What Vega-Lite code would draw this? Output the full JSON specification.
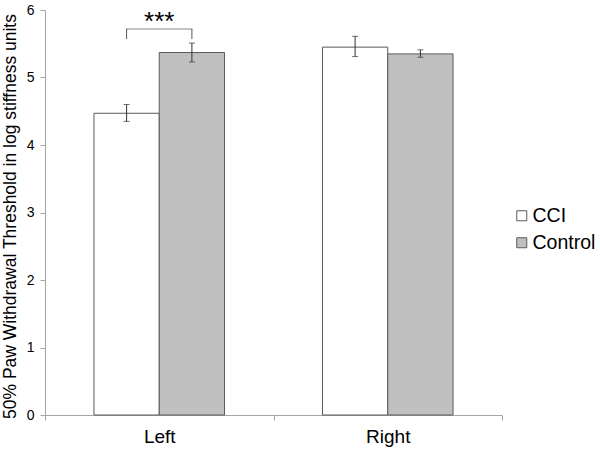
{
  "$schema": "https://vega.github.io/schema/vega-lite/v6.json",
  "autosize": "none",
  "padding": {"left": 45, "top": 10, "right": 98, "bottom": 37},
  "width": 457,
  "height": 405,
  "background": "white",
  "config": {
    "font": "Liberation Sans",
    "view": {"stroke": null}
  },
  "datasets": {
    "bars": [
      {"side": "Left", "group": "CCI", "mean": 4.47, "lo": 4.35, "hi": 4.6},
      {"side": "Left", "group": "Control", "mean": 5.37, "lo": 5.23, "hi": 5.51},
      {"side": "Right", "group": "CCI", "mean": 5.45, "lo": 5.31, "hi": 5.61},
      {"side": "Right", "group": "Control", "mean": 5.35, "lo": 5.3, "hi": 5.41}
    ],
    "legs": [
      {"side": "Left", "group": "CCI", "y": 5.57, "y2": 5.72},
      {"side": "Left", "group": "Control", "y": 5.57, "y2": 5.72}
    ],
    "sig": [
      {"side": "Left", "y": 5.72, "ty": 5.82, "label": "***"}
    ]
  },
  "encoding": {
    "x": {
      "field": "side", "type": "nominal",
      "scale": {"domain": ["Left", "Right"], "paddingInner": 0, "paddingOuter": 0},
      "axis": {
        "title": null, "labelAngle": 0, "tickBand": "extent",
        "domainColor": "#a6a6a6", "tickColor": "#a6a6a6", "tickSize": 5,
        "labelFontSize": 19, "labelColor": "#000000", "labelPadding": 7
      }
    }
  },
  "layer": [
    {
      "data": {"name": "bars"},
      "mark": {"type": "bar", "stroke": "#5a5a5a", "strokeWidth": 1},
      "encoding": {
        "xOffset": {"field": "group", "type": "nominal", "scale": {"domain": ["CCI", "Control"], "paddingOuter": 0.75, "paddingInner": 0}},
        "y": {
          "field": "mean", "type": "quantitative",
          "scale": {"domain": [0, 6], "nice": false},
          "axis": {
            "title": "50% Paw Withdrawal Threshold in log stiffness units",
            "titleFontSize": 17.5, "titleFontWeight": "normal", "titleColor": "#000000",
            "titleX": -30, "titleY": 206, "titleAngle": -90, "titleAlign": "center", "titleBaseline": "alphabetic",
            "values": [0, 1, 2, 3, 4, 5, 6], "format": "d", "grid": false,
            "domainColor": "#a6a6a6", "tickColor": "#a6a6a6", "tickSize": 5,
            "labelFontSize": 14, "labelColor": "#000000", "labelPadding": 6
          }
        },
        "fill": {
          "field": "group", "type": "nominal",
          "scale": {"domain": ["CCI", "Control"], "range": ["#ffffff", "#c0c0c0"]},
          "legend": {
            "title": null, "orient": "none", "legendX": 467, "legendY": 196,
            "symbolType": "square", "symbolSize": 100, "symbolStrokeColor": "#5a5a5a", "symbolStrokeWidth": 1,
            "labelFontSize": 19.5, "labelColor": "#000000", "rowPadding": 6, "labelOffset": 1, "padding": 0
          }
        }
      }
    },
    {
      "data": {"name": "bars"},
      "mark": {"type": "rule", "color": "#333333", "strokeWidth": 1},
      "encoding": {
        "xOffset": {"field": "group", "type": "nominal", "scale": {"domain": ["CCI", "Control"], "paddingOuter": 0.75, "paddingInner": 0}},
        "y": {"field": "lo", "type": "quantitative"},
        "y2": {"field": "hi"}
      }
    },
    {
      "data": {"name": "bars"},
      "mark": {"type": "tick", "color": "#333333", "size": 6, "thickness": 1},
      "encoding": {
        "xOffset": {"field": "group", "type": "nominal", "scale": {"domain": ["CCI", "Control"], "paddingOuter": 0.75, "paddingInner": 0}},
        "y": {"field": "lo", "type": "quantitative"}
      }
    },
    {
      "data": {"name": "bars"},
      "mark": {"type": "tick", "color": "#333333", "size": 6, "thickness": 1},
      "encoding": {
        "xOffset": {"field": "group", "type": "nominal", "scale": {"domain": ["CCI", "Control"], "paddingOuter": 0.75, "paddingInner": 0}},
        "y": {"field": "hi", "type": "quantitative"}
      }
    },
    {
      "data": {"name": "legs"},
      "mark": {"type": "rule", "color": "#555555", "strokeWidth": 1},
      "encoding": {
        "xOffset": {"field": "group", "type": "nominal", "scale": {"domain": ["CCI", "Control"], "paddingOuter": 0.75, "paddingInner": 0}},
        "y": {"field": "y", "type": "quantitative"},
        "y2": {"field": "y2"}
      }
    },
    {
      "data": {"name": "sig"},
      "mark": {"type": "tick", "color": "#555555", "size": 66, "thickness": 1},
      "encoding": {
        "y": {"field": "y", "type": "quantitative"}
      }
    },
    {
      "data": {"name": "sig"},
      "mark": {"type": "text", "fontSize": 26, "color": "#000000", "baseline": "middle", "align": "center"},
      "encoding": {
        "y": {"field": "ty", "type": "quantitative"},
        "text": {"field": "label"}
      }
    }
  ]
}
